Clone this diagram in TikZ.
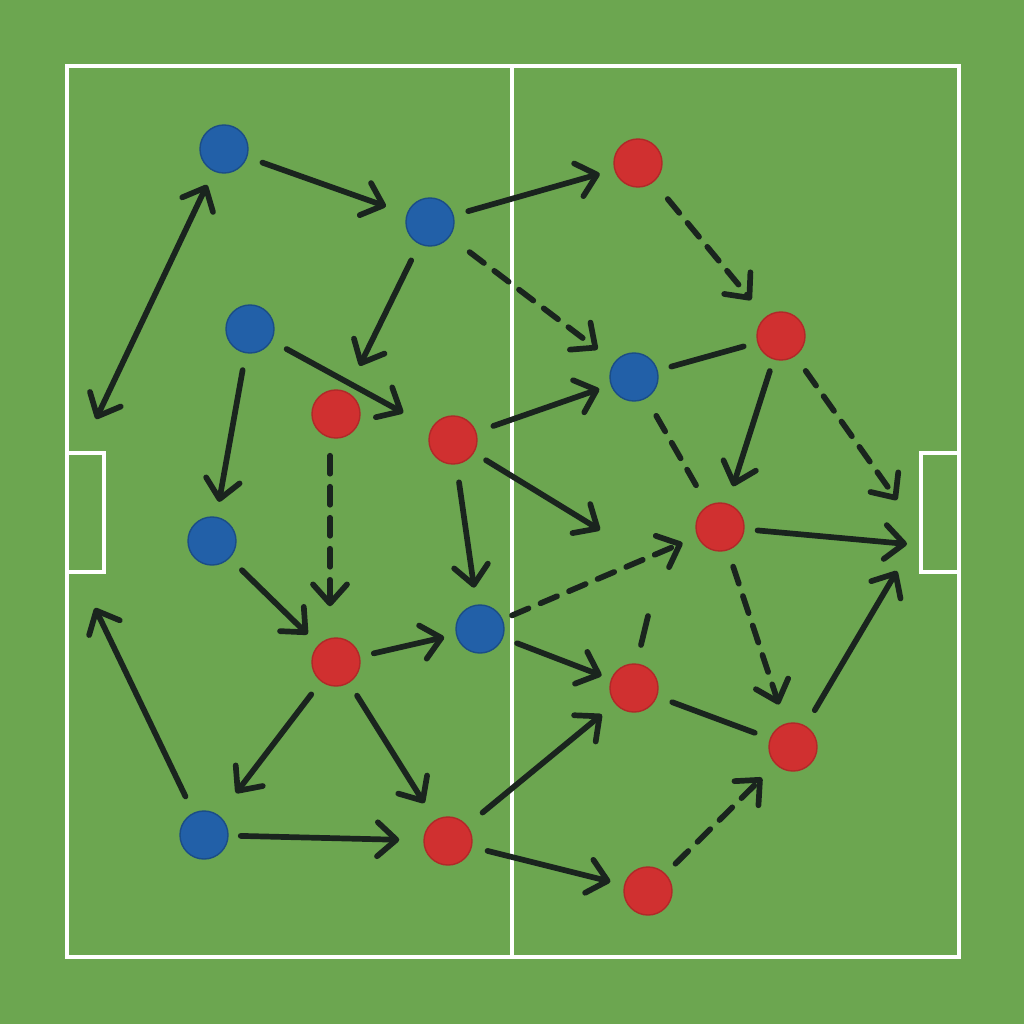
\documentclass[tikz,border=0pt]{standalone}
\usetikzlibrary{arrows.meta}
\definecolor{pitch}{RGB}{108,166,80}
\definecolor{bluep}{RGB}{34,96,168}
\definecolor{redp}{RGB}{208,48,48}
\definecolor{ink}{RGB}{26,36,30}
\begin{document}
\begin{tikzpicture}[x={(0.01cm,0)},y={(0,-0.01cm)},
    fieldline/.style={white,line width=0.04cm},
    blueplayer/.style={circle,fill=bluep,draw=bluep!80!black,line width=0.4pt,minimum size=0.48cm,inner sep=0pt},
    redplayer/.style={circle,fill=redp,draw=redp!85!black,line width=0.4pt,minimum size=0.48cm,inner sep=0pt},
    pass/.style={ink,line width=0.057cm,line cap=round,-{Straight Barb[length=0.19cm,width=0.34cm,round]}},
    run/.style={pass,dash pattern=on 0.18cm off 0.13cm},
    link/.style={ink,line width=0.057cm,line cap=round}]
    % Pitch
    \fill[pitch] (0,0) rectangle (1024,1024);
    \useasboundingbox (0,0) rectangle (1024,1024);
    \draw[fieldline] (67,66) rectangle (959,957);
    \draw[fieldline] (512,66) -- (512,957);
    \draw[fieldline] (67,453) rectangle (104,572);
    \draw[fieldline] (959,453) rectangle (921,572);

    % Define players
    \node[blueplayer] (b1) at (224,149) {};
    \node[blueplayer] (b2) at (430,222) {};
    \node[blueplayer] (b3) at (250,329) {};
    \node[blueplayer] (b4) at (212,541) {};
    \node[blueplayer] (b5) at (480,629) {};
    \node[blueplayer] (b6) at (204,835) {};
    \node[blueplayer] (b7) at (634,377) {};
    \node[redplayer] (r1) at (638,163) {};
    \node[redplayer] (r2) at (781,336) {};
    \node[redplayer] (r3) at (336,414) {};
    \node[redplayer] (r4) at (453,440) {};
    \node[redplayer] (r5) at (720,527) {};
    \node[redplayer] (r6) at (336,662) {};
    \node[redplayer] (r7) at (634,688) {};
    \node[redplayer] (r8) at (793,747) {};
    \node[redplayer] (r9) at (448,841) {};
    \node[redplayer] (r10) at (648,891) {};

    % Free ends
    \coordinate (wl) at (96,419);
    \coordinate (wl2) at (95,608);
    \coordinate (sp) at (600,530);
    \coordinate (g1) at (897,500);
    \coordinate (g2) at (907,544);
    \coordinate (g3) at (897,571);
    \coordinate (d1) at (648,616);
    \coordinate (d2) at (641,645);

    % Passes
    \draw[pass,shorten <=0.16cm,shorten >=0.22cm] (b1) -- (b2);
    \draw[pass,shorten <=0.15cm,shorten >=0.15cm] (b2) -- (r1);
    \draw[run,shorten <=0.25cm,shorten >=0.21cm] (b2) -- (b7);
    \draw[run,shorten <=0.22cm,shorten >=0.22cm] (r1) -- (r2);
    \draw[pass,{Straight Barb[length=0.19cm,width=0.34cm,round]}-{Straight Barb[length=0.19cm,width=0.34cm,round]},shorten <=0.15cm] (b1) -- (wl);
    \draw[pass,shorten <=0.18cm,shorten >=0.29cm] (b2) -- (r3);
    \draw[pass,shorten <=0.17cm,shorten >=0.32cm] (b3) -- (r4);
    \draw[pass,shorten <=0.17cm,shorten >=0.15cm] (b3) -- (b4);
    \draw[run,shorten <=0.17cm,shorten >=0.31cm] (r3.south) ++(-6,0) coordinate (r3s) (r3s) -- (r3s |- r6.north);
    \draw[pass,shorten <=0.18cm,shorten >=0.12cm] (r4) -- (b7);
    \draw[pass,shorten <=0.14cm] (r4) -- (sp);
    \draw[pass,shorten <=0.18cm,shorten >=0.17cm] (r4) -- (b5);
    \draw[pass,shorten <=0.17cm,shorten >=0.15cm] (b4) -- (r6);
    \draw[pass,shorten <=0.14cm,shorten >=0.12cm] (r6) -- (b5);
    \draw[run,shorten <=0.10cm,shorten >=0.16cm] (b5) -- (r5);
    \draw[pass,shorten <=0.15cm,shorten >=0.10cm] (b5) -- (r7);
    \draw[link,shorten <=0.14cm,shorten >=0.14cm] (b7) -- (r2);
    \draw[link,dash pattern=on 0.18cm off 0.13cm,shorten <=0.20cm,shorten >=0.14cm] (b7) -- (r5);
    \draw[pass,shorten <=0.12cm,shorten >=0.18cm] (r2) -- (r5);
    \draw[run,shorten <=0.18cm] (r2) -- (g1);
    \draw[pass,shorten <=0.13cm] (r5) -- (g2);
    \draw[run,shorten <=0.17cm,shorten >=0.20cm] (r5) -- (r8);
    \draw[link] (d1) -- (d2);
    \draw[link,shorten <=0.16cm,shorten >=0.16cm] (r7) -- (r8);
    \draw[pass,shorten <=0.18cm] (r8) -- (g3);
    \draw[pass,shorten <=0.16cm,shorten >=0.28cm] (r6) -- (b6);
    \draw[pass,shorten <=0.15cm,shorten >=0.20cm] (r6) -- (r9);
    \draw[pass,shorten <=0.18cm] (b6) -- (wl2);
    \draw[pass,shorten <=0.12cm,shorten >=0.24cm] (b6) -- (r9);
    \draw[pass,shorten <=0.20cm,shorten >=0.17cm] (r9) -- (r7);
    \draw[pass,shorten <=0.16cm,shorten >=0.14cm] (r9) -- (r10);
    \draw[run,shorten <=0.14cm,shorten >=0.19cm] (r10) -- (r8);
\end{tikzpicture}
\end{document}
